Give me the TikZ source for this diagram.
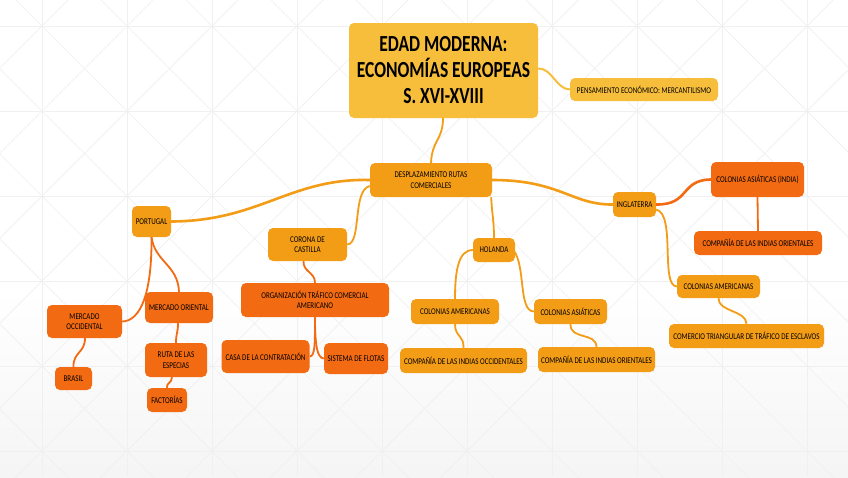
\documentclass[tikz,border=0pt]{standalone}
\usepackage{fontspec}
\setmainfont{Carlito}[FakeStretch=0.8]
\newfontfamily\titlefont{Carlito}[FakeStretch=0.76]

\definecolor{amarillo}{HTML}{F7BE3B}
\definecolor{naranja}{HTML}{F39C16}
\definecolor{rojizo}{HTML}{F26A11}
\definecolor{rejilla}{HTML}{F0F0F0}

\tikzset{
  caja/.style={rounded corners=5pt, inner sep=0pt, align=center,
    text=black, font=\fontsize{8.8}{10.5}\selectfont},
  cajaA/.style={caja, fill=amarillo},
  cajaN/.style={caja, fill=naranja},
  cajaR/.style={caja, fill=rojizo},
  ramaA/.style={draw=amarillo, line width=2pt},
  ramaN/.style={draw=naranja, line width=1.8pt},
  ramaG/.style={draw=naranja, line width=2.6pt},
  ramaR/.style={draw=rojizo, line width=1.8pt},
}

\begin{document}
\begin{tikzpicture}[x=1pt,y=-1pt]
\useasboundingbox (0,0) rectangle (848,477);

% fondo
\fill[white] (0,0) rectangle (848,477);
\shade[top color=white, bottom color=black!4] (0,290) rectangle (848,477);
\begin{scope}
\clip (0,0) rectangle (848,477);
\foreach \i in {-1,...,9} {
  \draw[rejilla, line width=0.8pt] (42+85*\i,0) -- (42+85*\i,477);
}
\foreach \j in {0,...,5} {
  \draw[rejilla, line width=0.8pt] (0,26+85*\j) -- (848,26+85*\j);
}
\foreach \k in {-6,...,10} {
  \draw[rejilla, line width=0.7pt] (16+85*\k,0) -- (16+85*\k+500,500);
  \draw[rejilla, line width=0.7pt] (68+85*\k,0) -- (68+85*\k-500,500);
}
\end{scope}

% nodos
\node[cajaA, minimum width=189, minimum height=95,
  font=\titlefont\bfseries\fontsize{23}{26}\selectfont]
  (titulo) at (443.5,70.5) {EDAD MODERNA:\\ECONOMÍAS EUROPEAS\\S. XVI-XVIII};
\node[cajaA, minimum width=148, minimum height=23] (pensam) at (644,89.5)
  {PENSAMIENTO ECONÓMICO: MERCANTILISMO};
\node[cajaN, minimum width=122, minimum height=34] (desplaz) at (431,180)
  {DESPLAZAMIENTO RUTAS\\COMERCIALES};

\node[cajaN, minimum width=39, minimum height=31] (portugal) at (151.5,221.5) {PORTUGAL};
\node[cajaR, minimum width=75, minimum height=33] (mercocc) at (84.5,321.5) {MERCADO\\OCCIDENTAL};
\node[cajaR, minimum width=37, minimum height=23] (brasil) at (73.5,378.5) {BRASIL};
\node[cajaR, minimum width=68, minimum height=31] (merori) at (179,307.5) {MERCADO ORIENTAL};
\node[cajaR, minimum width=62, minimum height=34] (ruta) at (176,360) {RUTA DE LAS\\ESPECIAS};
\node[cajaR, minimum width=40, minimum height=24] (factorias) at (167,400) {FACTORÍAS};

\node[cajaN, minimum width=79, minimum height=33] (castilla) at (307.5,244.5) {CORONA DE\\CASTILLA};
\node[cajaR, minimum width=148, minimum height=34] (organiz) at (315,300)
  {ORGANIZACIÓN TRÁFICO COMERCIAL\\AMERICANO};
\node[cajaR, minimum width=88, minimum height=33] (casa) at (265.5,356.5) {CASA DE LA CONTRATACIÓN};
\node[cajaR, minimum width=64, minimum height=31] (flotas) at (356,358.5) {SISTEMA DE FLOTAS};

\node[cajaN, minimum width=42, minimum height=24] (holanda) at (494,250) {HOLANDA};
\node[cajaN, minimum width=88, minimum height=25] (holamer) at (455,311.5) {COLONIAS AMERICANAS};
\node[cajaN, minimum width=127, minimum height=25] (holocc) at (463.5,360.5)
  {COMPAÑÍA DE LAS INDIAS OCCIDENTALES};
\node[cajaN, minimum width=73, minimum height=25] (holasia) at (570.5,311.5) {COLONIAS ASIÁTICAS};
\node[cajaN, minimum width=117, minimum height=25] (holori) at (596.5,359.5)
  {COMPAÑÍA DE LAS INDIAS ORIENTALES};

\node[cajaN, minimum width=43, minimum height=25] (inglaterra) at (634.5,204.5) {INGLATERRA};
\node[cajaR, minimum width=93, minimum height=35] (ingasia) at (757.5,179.5) {COLONIAS ASIÁTICAS (INDIA)};
\node[cajaR, minimum width=128, minimum height=24] (ingori) at (758,243)
  {COMPAÑÍA DE LAS INDIAS ORIENTALES};
\node[cajaN, minimum width=83, minimum height=23] (ingamer) at (718.5,286.5) {COLONIAS AMERICANAS};
\node[cajaN, minimum width=155, minimum height=24] (triang) at (746.5,336)
  {COMERCIO TRIANGULAR DE TRÁFICO DE ESCLAVOS};

% conectores
\draw[ramaN] (443,118) .. controls (443,140) and (432,140) .. (desplaz.north);
\draw[ramaA] (titulo.east) ++(0,-2) .. controls (552,68) and (556,89) .. (pensam.west);
\draw[ramaG] (desplaz.west) .. controls (290,178) and (260,221) .. (portugal.east);
\draw[ramaN] (desplaz.west) ++(0,6) .. controls (352,190) and (362,244) .. (castilla.east);
\draw[ramaN] (desplaz.south east) ++(-1,0) .. controls (492,215) and (494,220) .. (holanda.north);
\draw[ramaG] (desplaz.east) .. controls (560,180) and (572,205) .. (inglaterra.west);

\draw[ramaR] (portugal.south) .. controls (152,295) and (140,321) .. (mercocc.east);
\draw[ramaR] (portugal.south) .. controls (155,262) and (178,265) .. (merori.north);
\draw[ramaR] (mercocc.south) ++(0.5,0) .. controls (85,353) and (73,352) .. (brasil.north);
\draw[ramaR] (merori.south) ++(-1,0) .. controls (178,333) and (176,333) .. (ruta.north);
\draw[ramaR] (ruta.south) ++(-4,0) .. controls (172,383) and (166,383) .. (factorias.north);

\draw[ramaR] (castilla.south) ++(-4,0) .. controls (303,272) and (315,272) .. (organiz.north);
\draw[ramaR] (organiz.south) .. controls (315,345) and (315,356) .. (casa.east);
\draw[ramaR] (organiz.south) .. controls (315,345) and (317,358) .. (flotas.west);

\draw[ramaN] (holanda.west) .. controls (458,250) and (455,272) .. (holamer.north);
\draw[ramaN] (holanda.east) ++(-2,0) .. controls (526,265) and (518,311) .. (holasia.west);
\draw[ramaN] (holamer.south) .. controls (455,337) and (464,335) .. (holocc.north);
\draw[ramaN] (holasia.south) .. controls (570,340) and (596,332) .. (holori.north);

\draw[ramaR, line width=2.6pt] (inglaterra.east) .. controls (690,205) and (680,180) .. (ingasia.west);
\draw[ramaR] (ingasia.south) -- (ingori.north);
\draw[ramaN] (inglaterra.east) ++(0,5) .. controls (676,214) and (660,286) .. (ingamer.west);
\draw[ramaN] (ingamer.south) .. controls (718,312) and (746,310) .. (triang.north);
\end{tikzpicture}
\end{document}
